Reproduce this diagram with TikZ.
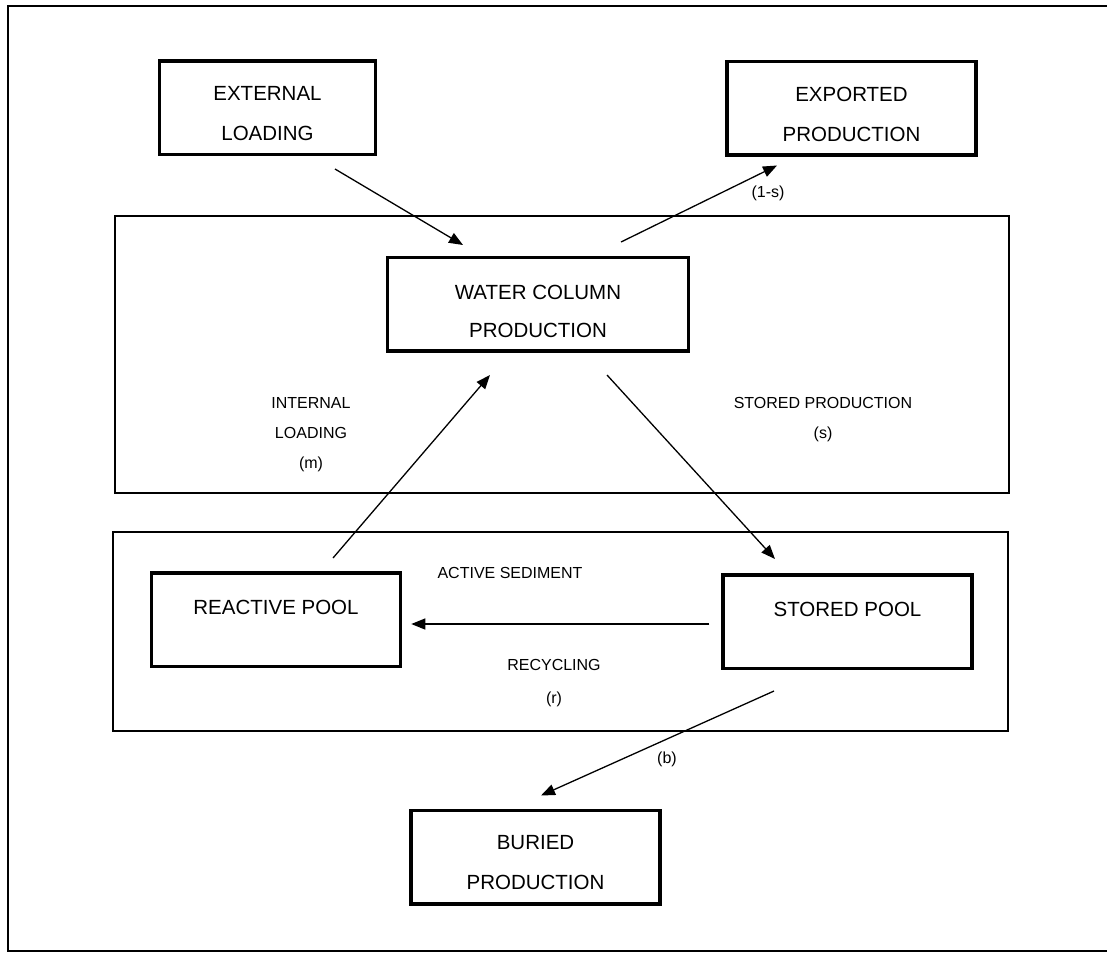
\documentclass[tikz,border=0pt]{standalone}
\usepackage{fontspec}
\setmainfont{Liberation Sans}
\usetikzlibrary{arrows.meta}

\begin{document}
\begin{tikzpicture}[
  x=1pt, y=-1pt,
  stock/.style={draw, line width=3.5pt, minimum width=249pt, minimum height=93.5pt,
    inner sep=0pt, align=center, font=\fontsize{20.5}{40}\selectfont},
  caption/.style={align=center, font=\fontsize{20.5}{40}\selectfont, yshift=-6pt},
  oneline/.style={stock, text depth=25pt},
  rate/.style={align=center, font=\fontsize{16}{30}\selectfont},
  region/.style={line width=1.3pt},
  ->, >={Triangle[length=14pt,width=11pt]}, line width=1.3pt
]
  \useasboundingbox (0,0) rectangle (1107,954);
  % outer frame and the two compartments
  \draw[-, region] (1107,6) -- (8,6) -- (8,951) -- (1107,951);
  \draw[-, region] (115,216) rectangle (1009,493);
  \draw[-, region] (113,532) rectangle (1008,731);

  \node[stock, minimum width=216pt, label={[caption]center:EXTERNAL\\LOADING}] (ext) at (267.5,107.5) {};
  \node[stock, label={[caption]center:EXPORTED\\PRODUCTION}] (exp) at (851.5,108) {};
  \node[stock, minimum width=301pt, label={[caption, yshift=-1pt]center:WATER COLUMN\\[-2pt]PRODUCTION}] (wcp) at (538,304) {};
  \node[oneline] (react) at (276,619.5) {REACTIVE POOL};
  \node[oneline] (stored) at (847.5,621.5) {STORED POOL};
  \node[stock, label={[caption]center:BURIED\\PRODUCTION}] (buried) at (535.5,857) {};

  \node[rate] (intload) at (311,435) {INTERNAL\\LOADING\\(m)};
  \node[rate] (storprod) at (823,420) {STORED PRODUCTION\\(s)};
  \node[rate] (actsed) at (510,573) {ACTIVE SEDIMENT};
  \node[rate] (recyc) at (554,683) {RECYCLING\\[3pt](r)};
  \node[rate] (exprate) at (768,193) {(1-s)};
  \node[rate] (burrate) at (667,759) {(b)};

  \draw ([xshift=67.5pt,yshift=-13pt]ext.south) -- ([xshift=-75pt,yshift=10.5pt]wcp.north);
  \draw ([xshift=83pt,yshift=13.5pt]wcp.north) -- ([xshift=-74.5pt,yshift=-9pt]exp.south);
  \draw ([xshift=69pt,yshift=-22.5pt]wcp.south) -- ([xshift=-72.5pt,yshift=14pt]stored.north);
  \draw ([xshift=57pt,yshift=13pt]react.north) -- ([xshift=-48pt,yshift=-22.5pt]wcp.south);
  \draw ([xshift=-12pt,yshift=-2.5pt]stored.west) -- ([xshift=9pt,yshift=-4.5pt]react.east);
  \draw ([xshift=-73.5pt,yshift=-21pt]stored.south) -- ([xshift=5.5pt,yshift=13pt]buried.north);
\end{tikzpicture}
\end{document}
